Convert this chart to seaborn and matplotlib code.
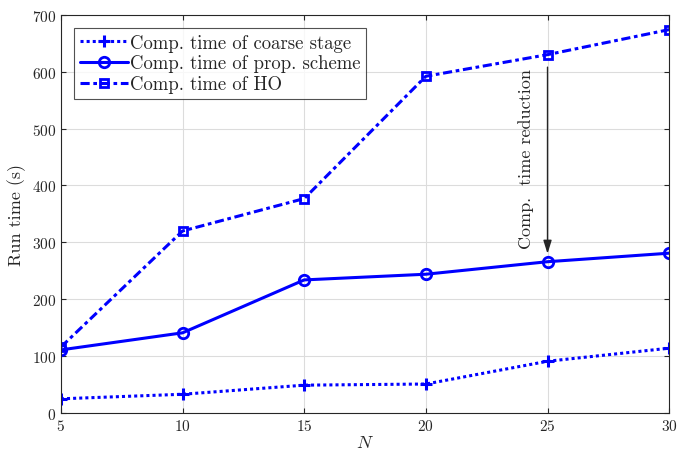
import numpy as np
import pandas as pd
import matplotlib
matplotlib.use("Agg")
import matplotlib.pyplot as plt
import seaborn as sns

N = [5, 10, 15, 20, 25, 30]
coarse_time = [25, 33, 49, 51, 91, 114]
prop_time = [111, 141, 234, 244, 266, 281]
ho_time = [116, 320, 377, 592, 630, 674]

labels = ["Comp. time of coarse stage", "Comp. time of prop. scheme", "Comp. time of HO"]
x_ticks = [5, 10, 15, 20, 25, 30]
y_ticks = [0, 100, 200, 300, 400, 500, 600, 700]

sns.set_style("ticks")
plt.rcParams["font.family"] = ["cmr10", "DejaVu Serif"]
plt.rcParams["mathtext.fontset"] = "cm"
plt.rcParams["axes.formatter.use_mathtext"] = True

fig = plt.figure(figsize=(6.92, 4.52), dpi=100)
ax = fig.add_axes([0.088, 0.084, 0.879, 0.881])

blue = "#0000ff"
styles = [
    dict(linestyle=(0, (1, 1)), marker="+", markersize=9, markeredgewidth=2.2),
    dict(linestyle="-", marker="o", markersize=7.5, markerfacecolor="none", markeredgewidth=2),
    dict(linestyle=(0, (3, 1.2, 1.2, 1.2)), marker="s", markersize=6.2,
         markerfacecolor="none", markeredgewidth=2),
]
for y, lab, st in zip([coarse_time, prop_time, ho_time], labels, styles):
    df = pd.DataFrame({"N": N, "t": y})
    sns.lineplot(data=df, x="N", y="t", ax=ax, color=blue, linewidth=2.2,
                 label=lab, markeredgecolor=blue, **st)

ax.set_xlim(5, 30)
ax.set_ylim(0, 700)
ax.set_xticks(x_ticks)
ax.set_yticks(y_ticks)
ax.grid(True, color="#dcdcdc", linewidth=0.8)
ax.tick_params(direction="in", top=True, right=True, labelsize=11, colors="#262626")
for s in ax.spines.values():
    s.set_color("#262626")
    s.set_linewidth(0.8)
ax.set_xlabel("$N$", fontsize=13, labelpad=1)
ax.set_ylabel("Run time (s)", fontsize=13, labelpad=4)

leg = ax.legend(loc="upper left", fontsize=13.5, frameon=True, fancybox=False,
                edgecolor="#262626", handlelength=2.6, handletextpad=0.1,
                borderpad=0.3, labelspacing=0.15, borderaxespad=0.7)
leg.get_frame().set_linewidth(0.8)

ax.annotate("", xy=(25, 280), xytext=(25, 608),
            arrowprops=dict(arrowstyle="-|>,head_length=0.8,head_width=0.25",
                            color="#262626", lw=1, shrinkA=0, shrinkB=0))
ax.text(24.1, 448, "Comp.  time reduction", rotation=90, ha="center", va="center",
        fontsize=13, color="#262626")

fig.savefig("out.png", dpi=100)
